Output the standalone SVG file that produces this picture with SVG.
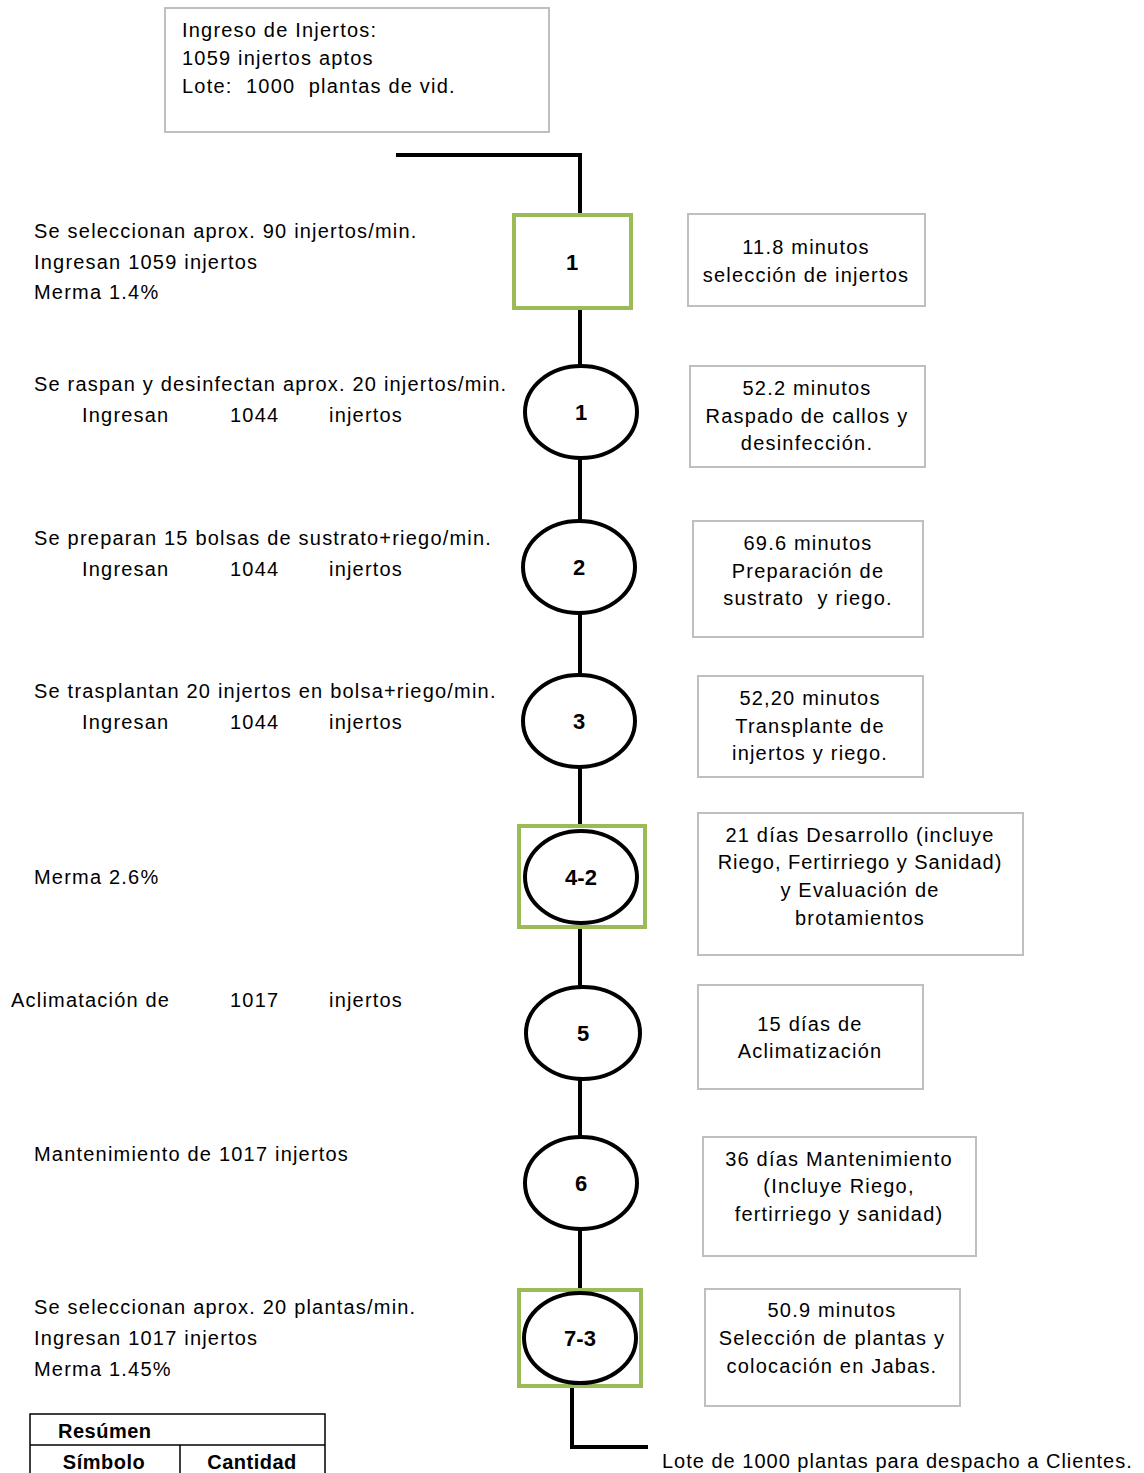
<svg xmlns="http://www.w3.org/2000/svg" width="1144" height="1473" viewBox="0 0 1144 1473">
<style>
text{font-family:"Liberation Sans",Arial,sans-serif;font-size:20px;letter-spacing:1.2px;fill:#000}
.c{text-anchor:middle}
.b{font-weight:bold;letter-spacing:0.5px}
.n{font-size:22px;font-weight:bold;letter-spacing:0}
.box{fill:#fff;stroke:#bfbfbf;stroke-width:2}
.gsq{fill:#fff;stroke:#9bbb59;stroke-width:4}
.ell{fill:#fff;stroke:#000;stroke-width:4}
.ln{fill:none;stroke:#000;stroke-width:4}
.tb{fill:none;stroke:#000;stroke-width:1.5}
</style>
<rect width="1144" height="1473" fill="#fff"/>
<g id="connectors">
<path class="ln" d="M396 155 H580 V1290"/>
<path class="ln" d="M572 1386 V1447 H648"/>
</g>
<g id="inicio">
<rect class="box" x="165" y="8" width="384" height="124"/>
<text x="182" y="37">Ingreso de Injertos:</text>
<text x="182" y="65">1059 injertos aptos</text>
<text x="182" y="93" xml:space="preserve">Lote:  1000  plantas de vid.</text>
</g>
<g id="n1">
<rect class="gsq" x="514" y="215" width="117" height="93"/>
<text class="c n" x="572" y="270">1</text>
</g>
<g id="n2">
<ellipse class="ell" cx="581" cy="412" rx="56" ry="46"/>
<text class="c n" x="581" y="420">1</text>
</g>
<g id="n3">
<ellipse class="ell" cx="579" cy="567" rx="56" ry="46"/>
<text class="c n" x="579" y="575">2</text>
</g>
<g id="n4">
<ellipse class="ell" cx="579" cy="721" rx="56" ry="46"/>
<text class="c n" x="579" y="729">3</text>
</g>
<g id="n5">
<rect class="gsq" x="519" y="826" width="126" height="101"/>
<ellipse class="ell" cx="581" cy="877" rx="56" ry="46"/>
<text class="c n" x="581" y="885">4-2</text>
</g>
<g id="n6">
<ellipse class="ell" cx="583" cy="1033" rx="57" ry="46"/>
<text class="c n" x="583" y="1041">5</text>
</g>
<g id="n7">
<ellipse class="ell" cx="581" cy="1183" rx="56" ry="46"/>
<text class="c n" x="581" y="1191">6</text>
</g>
<g id="n8">
<rect class="gsq" x="519" y="1290" width="122" height="96"/>
<ellipse class="ell" cx="580" cy="1338" rx="56" ry="45"/>
<text class="c n" x="580" y="1346">7-3</text>
</g>
<g id="r1">
<rect class="box" x="688" y="214" width="237" height="92"/>
<text class="c" x="806" y="254">11.8 minutos</text>
<text class="c" x="806" y="282">selección de injertos</text>
</g>
<g id="r2">
<rect class="box" x="690" y="366" width="235" height="101"/>
<text class="c" x="807" y="395">52.2 minutos</text>
<text class="c" x="807" y="423">Raspado de callos y</text>
<text class="c" x="807" y="450">desinfección.</text>
</g>
<g id="r3">
<rect class="box" x="693" y="521" width="230" height="116"/>
<text class="c" x="808" y="550">69.6 minutos</text>
<text class="c" x="808" y="578">Preparación de</text>
<text class="c" x="808" y="605" xml:space="preserve">sustrato  y riego.</text>
</g>
<g id="r4">
<rect class="box" x="698" y="676" width="225" height="101"/>
<text class="c" x="810" y="705">52,20 minutos</text>
<text class="c" x="810" y="733">Transplante de</text>
<text class="c" x="810" y="760">injertos y riego.</text>
</g>
<g id="r5">
<rect class="box" x="698" y="813" width="325" height="142"/>
<text class="c" x="860" y="842">21 días Desarrollo (incluye</text>
<text class="c" x="860" y="869" style="letter-spacing:1px">Riego, Fertirriego y Sanidad)</text>
<text class="c" x="860" y="897">y Evaluación de</text>
<text class="c" x="860" y="925">brotamientos</text>
</g>
<g id="r6">
<rect class="box" x="698" y="985" width="225" height="104"/>
<text class="c" x="810" y="1031">15 días de</text>
<text class="c" x="810" y="1058">Aclimatización</text>
</g>
<g id="r7">
<rect class="box" x="703" y="1137" width="273" height="119"/>
<text class="c" x="839" y="1166">36 días Mantenimiento</text>
<text class="c" x="839" y="1193">(Incluye Riego,</text>
<text class="c" x="839" y="1221">fertirriego y sanidad)</text>
</g>
<g id="r8">
<rect class="box" x="705" y="1289" width="255" height="117"/>
<text class="c" x="832" y="1317">50.9 minutos</text>
<text class="c" x="832" y="1345">Selección de plantas y</text>
<text class="c" x="832" y="1373">colocación en Jabas.</text>
</g>
<g id="left-texts">
<text x="34" y="238">Se seleccionan aprox. 90 injertos/min.</text>
<text x="34" y="269">Ingresan 1059 injertos</text>
<text x="34" y="299">Merma 1.4%</text>
<text x="34" y="391">Se raspan y desinfectan aprox. 20 injertos/min.</text>
<text x="82" y="422">Ingresan</text><text x="230" y="422">1044</text><text x="329" y="422">injertos</text>
<text x="34" y="545">Se preparan 15 bolsas de sustrato+riego/min.</text>
<text x="82" y="576">Ingresan</text><text x="230" y="576">1044</text><text x="329" y="576">injertos</text>
<text x="34" y="698">Se trasplantan 20 injertos en bolsa+riego/min.</text>
<text x="82" y="729">Ingresan</text><text x="230" y="729">1044</text><text x="329" y="729">injertos</text>
<text x="34" y="884">Merma 2.6%</text>
<text x="11" y="1007">Aclimatación de</text><text x="230" y="1007">1017</text><text x="329" y="1007">injertos</text>
<text x="34" y="1161">Mantenimiento de 1017 injertos</text>
<text x="34" y="1314">Se seleccionan aprox. 20 plantas/min.</text>
<text x="34" y="1345">Ingresan 1017 injertos</text>
<text x="34" y="1376">Merma 1.45%</text>
<text x="662" y="1468" style="letter-spacing:1px">Lote de 1000 plantas para despacho a Clientes.</text>
</g>
<g id="resumen">
<rect class="tb" x="30" y="1414" width="295" height="70"/>
<line class="tb" x1="30" y1="1445" x2="325" y2="1445"/>
<line class="tb" x1="180" y1="1445" x2="180" y2="1473"/>
<text class="b" x="58" y="1438">Resúmen</text>
<text class="c b" x="104" y="1469">Símbolo</text>
<text class="c b" x="252" y="1469">Cantidad</text>
</g>
</svg>
